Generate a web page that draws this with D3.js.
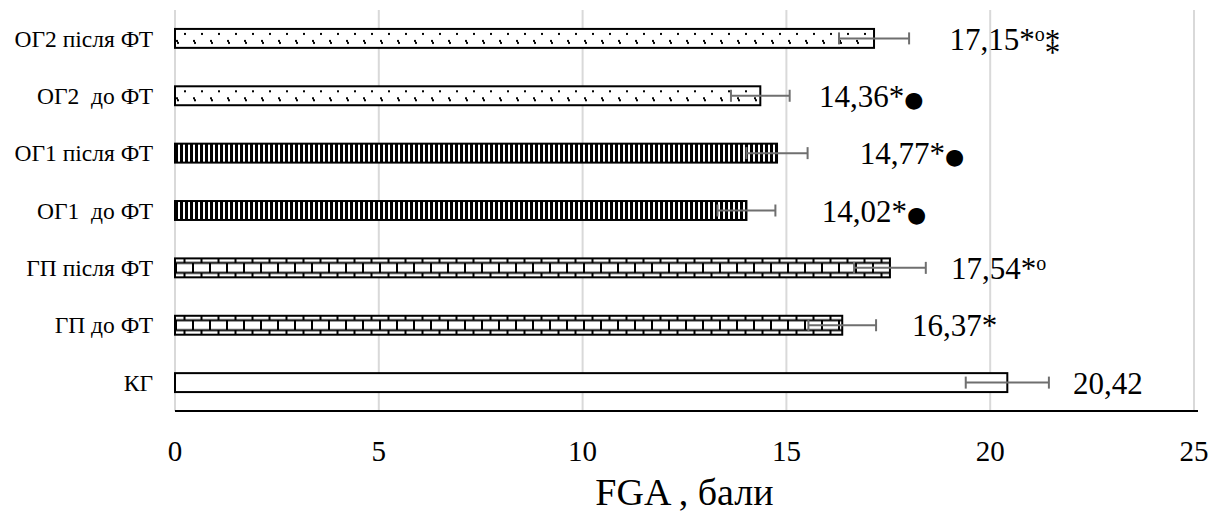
<!DOCTYPE html>
<html>
<head>
<meta charset="utf-8">
<script src="https://cdn.jsdelivr.net/npm/d3@7"></script>
<style>
  body { margin: 0; background: #fff; }
</style>
</head>
<body>
<script>
// top to bottom
const categories = ['ОГ2 після ФТ', 'ОГ2  до ФТ', 'ОГ1 після ФТ', 'ОГ1  до ФТ', 'ГП після ФТ', 'ГП до ФТ', 'КГ']
const values = [17.15, 14.36, 14.77, 14.02, 17.54, 16.37, 20.42]
const errors = [0.86, 0.72, 0.75, 0.71, 0.88, 0.83, 1.02]
const marks = ['*°⁑', '*●', '*●', '*●', '*°', '*', '']
const patterns = ['dots', 'dots', 'stripes', 'stripes', 'bricks', 'bricks', 'none']
const xTicks = [0, 5, 10, 15, 20, 25]
// where each data label starts, in axis units
const labelAt = [19.0, 15.8, 16.8, 15.87, 19.04, 18.08, 22.03]

const w = 1226
const h = 516
const serif = "'Liberation Serif', Tinos, 'Times New Roman', serif"

const svg = d3.select('body').append('svg')
    .attr('width', w)
    .attr('height', h)
    .attr('font-family', serif)

const x = d3.scaleLinear().domain([0, 25]).range([175, 1194])
const y = d3.scaleBand().domain(categories).range([10, 411])
    .paddingInner(0.67).paddingOuter(0.33)

const defs = svg.append('defs')

// one pattern per bar so the tile lines up with the bar top
categories.forEach((c, i) => {
    const top = y(c)
    const bh = y.bandwidth()
    const kind = patterns[i]
    if (kind === 'none') return
    const p = defs.append('pattern')
        .attr('id', 'pat' + i)
        .attr('patternUnits', 'userSpaceOnUse')
        .attr('x', x(0))
        .attr('y', top)
    if (kind === 'dots') {
        p.attr('width', 17).attr('height', bh)
        p.append('rect').attr('width', 17).attr('height', bh).attr('fill', '#fff')
        p.append('rect').attr('x', 9).attr('y', 4).attr('width', 2).attr('height', 2).attr('fill', '#000')
        p.append('rect').attr('x', 1).attr('y', 11).attr('width', 2).attr('height', 2).attr('fill', '#000')
        p.append('rect').attr('x', 2).attr('y', 13).attr('width', 2).attr('height', 2).attr('fill', '#000')
    } else if (kind === 'stripes') {
        p.attr('width', 5).attr('height', bh)
        p.append('rect').attr('width', 5).attr('height', bh).attr('fill', '#fff')
        p.append('rect').attr('width', 3).attr('height', bh).attr('fill', '#000')
    } else if (kind === 'bricks') {
        p.attr('width', 17).attr('height', bh)
        p.append('rect').attr('width', 17).attr('height', bh).attr('fill', '#fff')
        p.append('rect').attr('y', 3.5).attr('width', 17).attr('height', 2).attr('fill', '#000')
        p.append('rect').attr('y', bh - 5.5).attr('width', 17).attr('height', 2).attr('fill', '#000')
        p.append('rect').attr('x', 0).attr('y', 4).attr('width', 2).attr('height', bh - 8).attr('fill', '#000')
        p.append('rect').attr('x', 8.5).attr('y', 0).attr('width', 2).attr('height', 4).attr('fill', '#000')
        p.append('rect').attr('x', 8.5).attr('y', bh - 4).attr('width', 2).attr('height', 4).attr('fill', '#000')
    }
})

// gridlines
svg.append('g').selectAll('line')
    .data(xTicks)
    .enter()
    .append('line')
    .attr('x1', d => x(d))
    .attr('x2', d => x(d))
    .attr('y1', 10)
    .attr('y2', 411)
    .attr('stroke', '#d9d9d9')
    .attr('stroke-width', 2)

// bars
svg.append('g').selectAll('rect')
    .data(categories)
    .enter()
    .append('rect')
    .attr('x', x(0))
    .attr('y', d => y(d))
    .attr('width', (d, i) => x(values[i]) - x(0))
    .attr('height', y.bandwidth())
    .attr('fill', (d, i) => patterns[i] === 'none' ? '#fff' : `url(#pat${i})`)
    .attr('stroke', '#000')
    .attr('stroke-width', 2)

// error bars
const err = svg.append('g')
    .attr('stroke', '#6f6f6f')
    .attr('stroke-width', 2)
categories.forEach((c, i) => {
    const cy = y(c) + y.bandwidth() / 2
    const lo = x(values[i] - errors[i])
    const hi = x(values[i] + errors[i])
    err.append('line').attr('x1', lo).attr('x2', hi).attr('y1', cy).attr('y2', cy)
    err.append('line').attr('x1', lo).attr('x2', lo).attr('y1', cy - 6).attr('y2', cy + 6)
    err.append('line').attr('x1', hi).attr('x2', hi).attr('y1', cy - 6).attr('y2', cy + 6)
})

// axis line
svg.append('line')
    .attr('x1', x(0)).attr('x2', x(25) + 4)
    .attr('y1', 411).attr('y2', 411)
    .attr('stroke', '#000')
    .attr('stroke-width', 2)

// category labels
svg.append('g').selectAll('text')
    .data(categories)
    .enter()
    .append('text')
    .attr('x', 153)
    .attr('y', d => y(d) + y.bandwidth() / 2)
    .attr('dy', '0.35em')
    .attr('text-anchor', 'end')
    .attr('font-size', 23.5)
    .style('white-space', 'pre')
    .text(d => d)

// value labels
const labels = svg.append('g').selectAll('text')
    .data(categories)
    .enter()
    .append('text')
    .attr('x', (d, i) => x(labelAt[i]))
    .attr('y', d => y(d) + y.bandwidth() / 2)
    .attr('dy', '0.36em')
    .attr('font-size', 31)
labels.each(function (d, i) {
    const t = d3.select(this)
    const num = values[i].toFixed(2).replace('.', ',')
    t.append('tspan').text(num)
    for (const ch of marks[i]) {
        if (ch === '*') {
            t.append('tspan').text('*')
        } else if (ch === '°') {
            t.append('tspan').attr('font-size', 20).attr('baseline-shift', '45%').text('o')
        } else if (ch === '●') {
            t.append('tspan').attr('font-family', 'DejaVu Sans').attr('font-size', 22).text('●')
        } else if (ch === '⁑') {
            t.append('tspan').attr('dy', 1).text('*')
            t.append('tspan').attr('dx', -15.5).attr('dy', 12).text('*')
        }
    }
})

// tick labels
svg.append('g').selectAll('text')
    .data(xTicks)
    .enter()
    .append('text')
    .attr('x', d => x(d))
    .attr('y', 461)
    .attr('text-anchor', 'middle')
    .attr('font-size', 29)
    .text(d => d)

// axis title
svg.append('text')
    .attr('x', (x(0) + x(25)) / 2)
    .attr('y', 505)
    .attr('text-anchor', 'middle')
    .attr('font-size', 38)
    .style('white-space', 'pre')
    .text('FGA , бали')
</script>
</body>
</html>
